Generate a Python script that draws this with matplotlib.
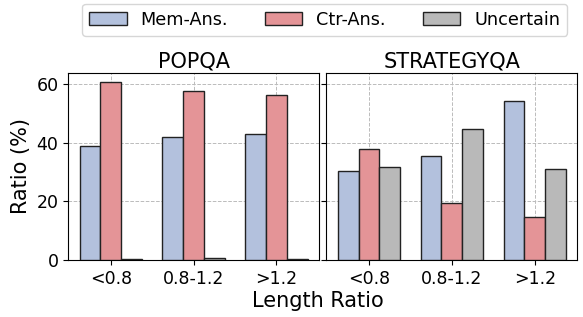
import numpy as np
import matplotlib.pyplot as plt

groups = ['<0.8', '0.8-1.2', '>1.2']
series = ['Mem-Ans.', 'Ctr-Ans.', 'Uncertain']
colors = ['#b3c1dd', '#e49497', '#b9b9b9']

popqa_mem = [38.9, 41.9, 43.2]
popqa_ctr = [60.9, 57.6, 56.5]
popqa_unc = [0.3, 0.6, 0.4]

strat_mem = [30.5, 35.7, 54.5]
strat_ctr = [37.8, 19.3, 14.6]
strat_unc = [31.8, 44.9, 31.2]

fig, axes = plt.subplots(1, 2, figsize=(5.83, 3.17), dpi=100, sharey=True)
x = np.arange(len(groups))
w = 0.25

data = [('POPQA', [popqa_mem, popqa_ctr, popqa_unc]),
        ('STRATEGYQA', [strat_mem, strat_ctr, strat_unc])]

for ax, (title, vals) in zip(axes, data):
    for i, v in enumerate(vals):
        ax.bar(x + (i - 1) * w, v, w, color=colors[i], edgecolor='#222222',
               linewidth=1.0, label=series[i], zorder=3)
    ax.set_title(title, fontsize=15, pad=4)
    ax.set_xticks(x)
    ax.set_xticklabels(groups, fontsize=12.5)
    ax.tick_params(axis='y', labelsize=12.5)
    ax.grid(True, linestyle='--', color='#bbbbbb', linewidth=0.7, zorder=0)

axes[0].set_ylabel('Ratio (%)', fontsize=15)
fig.supxlabel('Length Ratio', fontsize=15, x=0.545, y=0.02)

handles, labels = axes[0].get_legend_handles_labels()
fig.legend(handles, labels, loc='upper center', ncol=3, fontsize=12.7,
           bbox_to_anchor=(0.557, 1.0), handlelength=2.1, handleheight=0.75,
           columnspacing=2.1, borderaxespad=0.2)

fig.subplots_adjust(left=0.117, right=0.99, bottom=0.18, top=0.77, wspace=0.03)
plt.savefig('out.png')
